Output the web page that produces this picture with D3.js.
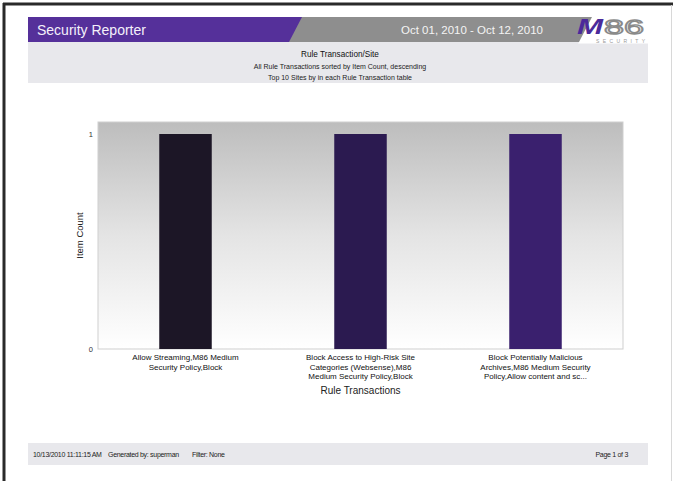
<!DOCTYPE html>
<html>
<head>
<meta charset="utf-8">
<script src="https://cdn.jsdelivr.net/npm/d3@7"></script>
<style>
  body { margin: 0; background: #fff; }
  svg { display: block; font-family: "Liberation Sans", Arial, sans-serif; }
</style>
</head>
<body>
<svg id="chart" width="675" height="481"></svg>
<script>
"use strict";

var categories = [
  ['Allow Streaming,M86 Medium', 'Security Policy,Block'],
  ['Block Access to High-Risk Site', 'Categories (Websense),M86', 'Medium Security Policy,Block'],
  ['Block Potentially Malicious', 'Archives,M86 Medium Security', 'Policy,Allow content and sc...']
];
var itemCounts = [1, 1, 1];
var barColors = ['#1c1626', '#2b1a50', '#3a206e'];
var yTicks = [0, 1];

var svg = d3.select('#chart');

// page frame
svg.append('line').attr('x1', 3).attr('x2', 673).attr('y1', 4).attr('y2', 4)
  .attr('stroke', '#2a2a2a').attr('stroke-width', 3);
svg.append('line').attr('x1', 4).attr('x2', 4).attr('y1', 3).attr('y2', 481)
  .attr('stroke', '#2a2a2a').attr('stroke-width', 3);
svg.append('line').attr('x1', 671.5).attr('x2', 671.5).attr('y1', 5).attr('y2', 481)
  .attr('stroke', '#d8d8d8').attr('stroke-width', 1);

// subtitle box
var sub = svg.append('g');
sub.append('rect').attr('x', 28).attr('y', 42).attr('width', 620).attr('height', 41).attr('fill', '#e8e8ec');
sub.append('text').attr('x', 340).attr('y', 57).attr('text-anchor', 'middle')
  .attr('font-size', 8.2).attr('fill', '#111').text('Rule Transaction/Site');
sub.append('text').attr('x', 340).attr('y', 68.5).attr('text-anchor', 'middle')
  .attr('font-size', 7).attr('fill', '#222').text('All Rule Transactions sorted by Item Count, descending');
sub.append('text').attr('x', 340).attr('y', 79.5).attr('text-anchor', 'middle')
  .attr('font-size', 7).attr('fill', '#222').text('Top 10 Sites by  in each Rule Transaction table');

// header band
var head = svg.append('g');
head.append('rect').attr('x', 28).attr('y', 17).attr('width', 620).attr('height', 25).attr('fill', '#8e8e8e');
head.append('path').attr('d', 'M28,17 L302,17 L289,42 L28,42 Z').attr('fill', '#55309a');
head.append('path').attr('d', 'M592,17 L648,17 L648,43.5 L578,43.5 L579,42 Z').attr('fill', '#fff');
head.append('text').attr('x', 37).attr('y', 35).attr('fill', '#f4f0fa')
  .attr('font-size', 14).text('Security Reporter');
head.append('text').attr('x', 472).attr('y', 34).attr('fill', '#f4f4f4')
  .attr('text-anchor', 'middle').attr('font-size', 11.5).text('Oct 01, 2010 - Oct 12, 2010');
// logo
head.append('text').attr('x', 577).attr('y', 34).attr('fill', '#4b2a9a')
  .attr('font-size', 22).attr('font-weight', 'bold').attr('font-style', 'italic')
  .attr('textLength', 26).attr('lengthAdjust', 'spacingAndGlyphs').text('M');
head.append('text').attr('x', 604).attr('y', 34).attr('fill', '#fff')
  .attr('stroke', '#8a8a8a').attr('stroke-width', 1.3)
  .attr('font-size', 21).attr('textLength', 40).attr('lengthAdjust', 'spacingAndGlyphs').text('86');
head.append('text').attr('x', 596).attr('y', 43).attr('fill', '#9a9a9a')
  .attr('font-size', 5).attr('textLength', 49).attr('lengthAdjust', 'spacing').text('SECURITY');

// plot
var plotL = 98, plotR = 623, plotT = 122, plotB = 349;

var defs = svg.append('defs');
var grad = defs.append('linearGradient').attr('id', 'bg').attr('x1', 0).attr('x2', 0).attr('y1', 0).attr('y2', 1);
grad.append('stop').attr('offset', '0%').attr('stop-color', '#bdbdbd');
grad.append('stop').attr('offset', '50%').attr('stop-color', '#e4e4e4');
grad.append('stop').attr('offset', '100%').attr('stop-color', '#ffffff');

svg.append('rect').attr('x', plotL).attr('y', plotT)
  .attr('width', plotR - plotL).attr('height', plotB - plotT)
  .attr('fill', 'url(#bg)').attr('stroke', '#cfcfcf').attr('stroke-width', 1);

var X = d3.scaleBand().domain(d3.range(categories.length))
  .range([plotL, plotR]).paddingInner(0.7).paddingOuter(0.35);
var Y = d3.scaleLinear().domain([0, 1]).range([plotB, 134]);

svg.append('g').selectAll('rect').data(itemCounts).join('rect')
  .attr('x', function (d, i) { return X(i); })
  .attr('y', function (d) { return Y(d); })
  .attr('width', X.bandwidth())
  .attr('height', function (d) { return Y(0) - Y(d); })
  .attr('fill', function (d, i) { return barColors[i]; });

var yaxis = d3.axisLeft(Y).tickValues(yTicks).tickSize(0).tickPadding(5).tickFormat(d3.format('d'));
var yg = svg.append('g').attr('transform', 'translate(' + plotL + ',0)').call(yaxis);
yg.select('.domain').remove();
yg.selectAll('text').attr('font-size', 7.5).attr('fill', '#333').attr('font-family', null);

svg.append('text').attr('transform', 'translate(83,' + ((plotT + plotB) / 2) + ') rotate(-90)')
  .attr('text-anchor', 'middle').attr('font-size', 9.5).attr('fill', '#222').text('Item Count');

// category labels
var lab = svg.append('g').selectAll('text').data(categories).join('text')
  .attr('x', function (d, i) { return X(i) + X.bandwidth() / 2; })
  .attr('y', 360)
  .attr('text-anchor', 'middle').attr('font-size', 8).attr('fill', '#111');
lab.selectAll('tspan').data(function (d) { return d; }).join('tspan')
  .attr('x', function () { return this.parentNode.getAttribute('x'); })
  .attr('dy', function (d, j) { return j === 0 ? 0 : 9.5; })
  .text(function (d) { return d; });

svg.append('text').attr('x', X(1) + X.bandwidth() / 2).attr('y', 394)
  .attr('text-anchor', 'middle').attr('font-size', 10).attr('fill', '#222').text('Rule Transactions');

// footer
var foot = svg.append('g');
foot.append('rect').attr('x', 28).attr('y', 443).attr('width', 620).attr('height', 22).attr('fill', '#e8e8ec');
var footText = foot.append('g').attr('font-size', 7).attr('letter-spacing', -0.3).attr('fill', '#222');
footText.append('text').attr('x', 33).attr('y', 456.5).text('10/13/2010 11:11:15 AM');
footText.append('text').attr('x', 108).attr('y', 456.5).text('Generated by: superman');
footText.append('text').attr('x', 192).attr('y', 456.5).text('Filter: None');
footText.append('text').attr('x', 628).attr('y', 457).attr('text-anchor', 'end').text('Page 1 of 3');
</script>
</body>
</html>
